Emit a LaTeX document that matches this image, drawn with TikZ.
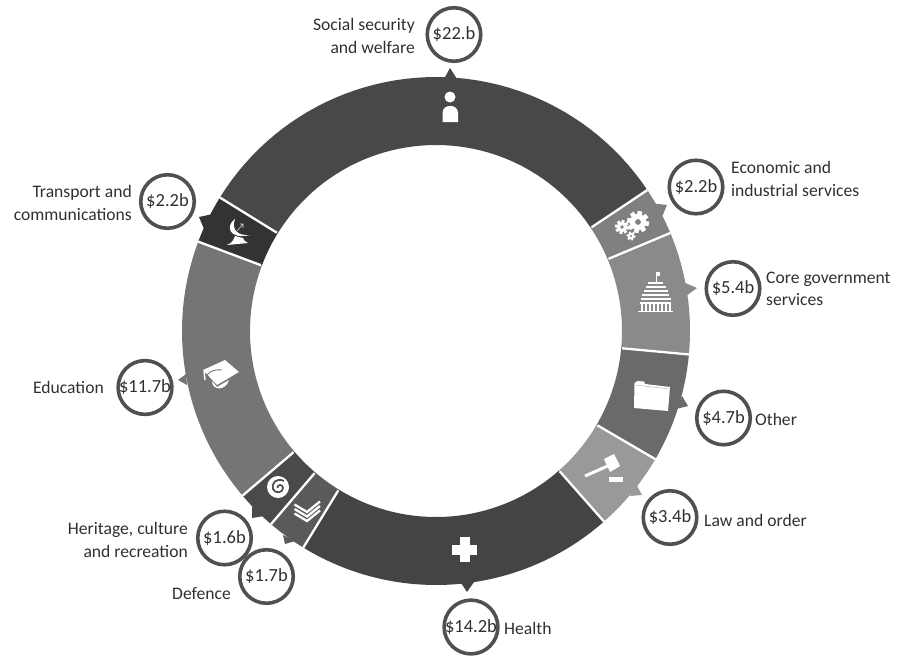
\documentclass[tikz,border=0pt]{standalone}
\usepackage{fontspec}
\setmainfont{Carlito}
\definecolor{cSocial}{HTML}{484848}
\definecolor{cEcon}{HTML}{808080}
\definecolor{cCore}{HTML}{8A8A8A}
\definecolor{cOther}{HTML}{6A6A6A}
\definecolor{cLaw}{HTML}{999999}
\definecolor{cHealth}{HTML}{444444}
\definecolor{cDefence}{HTML}{5A5A5A}
\definecolor{cHeritage}{HTML}{4A4A4A}
\definecolor{cEdu}{HTML}{757575}
\definecolor{cTrans}{HTML}{333333}
\definecolor{cRing}{HTML}{505050}
\definecolor{cText}{HTML}{303030}
\newcommand{\RingSeg}[3]{%
  \fill[#3] plot[domain=#1:#2,samples=50] ({436+254*cos(\x)},{331-254*sin(\x)})
    -- plot[domain=#2:#1,samples=50] ({436+186*cos(\x)},{331-186*sin(\x)}) -- cycle;}
\newcommand{\RingSep}[1]{%
  \draw[sepline] ({436+187*cos(#1)},{331-187*sin(#1)}) -- ({436+254*cos(#1)},{331-254*sin(#1)});}
\newcommand{\GearIcon}[5]{% x y r teeth bg
  \foreach \t in {1,...,#4}{
    \draw[white,line width=#3*0.42pt] ({#1+#3*0.6*cos(\t*360/#4+10)},{#2+#3*0.6*sin(\t*360/#4+10)})
      -- ({#1+#3*cos(\t*360/#4+10)},{#2+#3*sin(\t*360/#4+10)});}
  \fill[white] (#1-#3*0.74,#2) arc[start angle=180,end angle=-180,radius=#3*0.74pt];
  \fill[#5] (#1-#3*0.26,#2) arc[start angle=180,end angle=-180,radius=#3*0.26pt];}
\tikzset{
  x=1pt,y=-1pt,
  sepline/.style={white,line width=2.3pt},
  amount/.style={circle,draw=cRing,fill=white,line width=3.6pt,minimum size=53.5pt,inner sep=0pt,
    text=cText,font=\fontsize{18.5}{18.5}\selectfont},
  lab/.style={text=cText,font=\fontsize{17.6}{22.5}\selectfont,inner sep=0pt},
  labr/.style={lab,anchor=east,align=right},
  labl/.style={lab,anchor=west,align=left},
}
\begin{document}
\begin{tikzpicture}
\useasboundingbox (0,0) rectangle (904,656);
% ring
\RingSeg{33.7}{148.3}{cSocial}
\RingSeg{148.3}{159.4}{cTrans}
\RingSeg{159.4}{220.4}{cEdu}
\RingSeg{220.4}{229.5}{cHeritage}
\RingSeg{229.5}{238.5}{cDefence}
\RingSeg{238.5}{311.4}{cHealth}
\RingSeg{311.4}{329.7}{cLaw}
\RingSeg{329.7}{354.7}{cOther}
\RingSeg{-5.3}{22.7}{cCore}
\RingSeg{22.7}{33.7}{cEcon}
\foreach \a in {33.7,148.3,159.4,220.4,229.5,238.5,311.4,329.7,354.7,22.7}{\RingSep{\a}}
% pointers
\coordinate (pSocial) at (450,68);
\coordinate (pEcon) at (667,205);
\coordinate (pCore) at (697,288);
\coordinate (pOther) at (688,406);
\coordinate (pLaw) at (642,495);
\coordinate (pHealth) at (467,592);
\coordinate (pDefence) at (285,544);
\coordinate (pHeritage) at (252,518);
\coordinate (pEdu) at (178,380);
\coordinate (pTrans) at (199,217);
\fill[cSocial] (pSocial) -- (444,79) -- (457,79) -- cycle;
\fill[cEcon] (pEcon) -- (650,203) -- (662,217) -- cycle;
\fill[cCore] (pCore) -- (683,282) -- (686,296) -- cycle;
\fill[cOther] (pOther) -- (682,396) -- (676,409) -- cycle;
\fill[cLaw] (pLaw) -- (636,484) -- (630,496) -- cycle;
\fill[cHealth] (pHealth) -- (461,583) -- (474,582) -- cycle;
\fill[cDefence] (pDefence) -- (283,535) -- (295,541) -- cycle;
\fill[cHeritage] (pHeritage) -- (252,506) -- (264,516) -- cycle;
\fill[cEdu] (pEdu) -- (186,374) -- (187,385) -- cycle;
\fill[cTrans] (pTrans) -- (213,214) -- (204,229) -- cycle;
% amounts
\node[amount] (aSocial) at (454,34.5) {\$22.b};
\node[amount] (aEcon) at (696,187) {\$2.2b};
\node[amount] (aCore) at (733,288.5) {\$5.4b};
\node[amount] (aOther) at (723.5,418) {\$4.7b};
\node[amount] (aLaw) at (670,517.5) {\$3.4b};
\node[amount] (aHealth) at (471,627) {\$14.2b};
\node[amount] (aHeritage) at (224.5,538) {\$1.6b};
\node[amount] (aDefence) at (266.5,576.5) {\$1.7b};
\node[amount] (aEdu) at (145,387.5) {\$11.7b};
\node[amount] (aTrans) at (167.5,201.5) {\$2.2b};
% labels
\node[labr] (lSocial) at (415,36) {Social security\\and welfare};
\node[labl] (lEcon) at (731,179) {Economic and\\industrial services};
\node[labl] (lCore) at (766,289) {Core government\\services};
\node[labl] (lOther) at (755,419) {Other};
\node[labl] (lLaw) at (704,520) {Law and order};
\node[labl] (lHealth) at (504,628) {Health};
\node[labr] (lDefence) at (231,594) {Defence};
\node[labr] (lHeritage) at (188,540) {Heritage, culture\\and recreation};
\node[labr] (lEdu) at (104,387) {Education};
\node[labr] (lTrans) at (132,203) {Transport and\\communications};
% person icon
\fill[white] (450,97) circle[radius=5.5pt];
\fill[white] (442.5,122) -- (442.5,113) .. controls (442.5,103.5) and (458,103.5) .. (458,113) -- (458,122) -- cycle;
% cross icon
\fill[white] (460,537) rectangle (470,562);
\fill[white] (452,545) rectangle (477,554.5);
% gears
\GearIcon{638}{222}{11}{8}{cEcon}
\GearIcon{622}{227}{7}{8}{cEcon}
\GearIcon{631}{236}{4.5}{6}{cEcon}
% parliament
\draw[white,line width=0.7pt] (656.5,272) -- (656.5,282);
\fill[white] (656.5,272) rectangle (660,275.5);
\foreach \yy/\hw in {283/7.5,287/10,291/12,295/13.5,299/15,303/15.5}{
  \draw[white,line width=2.6pt] (655.5-\hw,\yy) -- (655.5+\hw,\yy);}
\foreach \xx in {642,646,650,654,658,662,666,670}{
  \draw[white,line width=1.8pt] (\xx,304) -- (\xx,311);}
\draw[white,line width=1.4pt] (638,311.5) -- (673,311.5);
% folder
\fill[white] (634.5,383) -- (637.5,381) -- (644,381.5) -- (645,384) -- (670,387) -- (668,411) -- (634,408) -- cycle;
\draw[cOther!40!white,line width=0.6pt] (635,385) -- (669.5,389);
% gavel
\draw[white,line width=3pt] (585,476) -- (610,465);
\fill[white] (604,459) -- (614,454) -- (620,466) -- (610,472) -- cycle;
\fill[white] (608.5,477) rectangle (623,481.5);
% koru
\fill[white] (278,487) circle[radius=11pt];
\draw[cHeritage,line width=1.7pt] (284,481) .. controls (276,477) and (271,484) .. (273,489)
  .. controls (275,494) and (283,493) .. (283,488) .. controls (283,484) and (277,484) .. (277.5,488);
% chevrons
\foreach \dy in {0,4.5,9}{
  \draw[white,line width=2.3pt] (294.5,504.5+\dy) -- (307,512+\dy) -- (320,501.5+\dy);}
% graduation cap
\fill[white] (203,370) -- (225,360) -- (239,372) -- (217,385) -- cycle;
\fill[white] (212,381) .. controls (212,391) and (226,391) .. (229,380) -- (217,387) -- cycle;
\draw[cEdu,line width=0.9pt] (205,379) .. controls (207,372) and (214,369) .. (222,370);
\draw[white,line width=1.4pt] (204,371) -- (205,380);
% dish
\fill[white] (235,219) .. controls (225,226) and (229,240) .. (250,235) .. controls (238,236) and (231,230) .. (235,219) -- cycle;
\fill[white] (227,245) .. controls (233,243) and (234,238) .. (235,236) -- (243,238) .. controls (243,240) and (245,241) .. (248,243) -- cycle;
\draw[white!80!cTrans,line width=0.6pt] (237,231) -- (243,224) (240,224) -- (243,224) -- (243,228);
\end{tikzpicture}
\end{document}
